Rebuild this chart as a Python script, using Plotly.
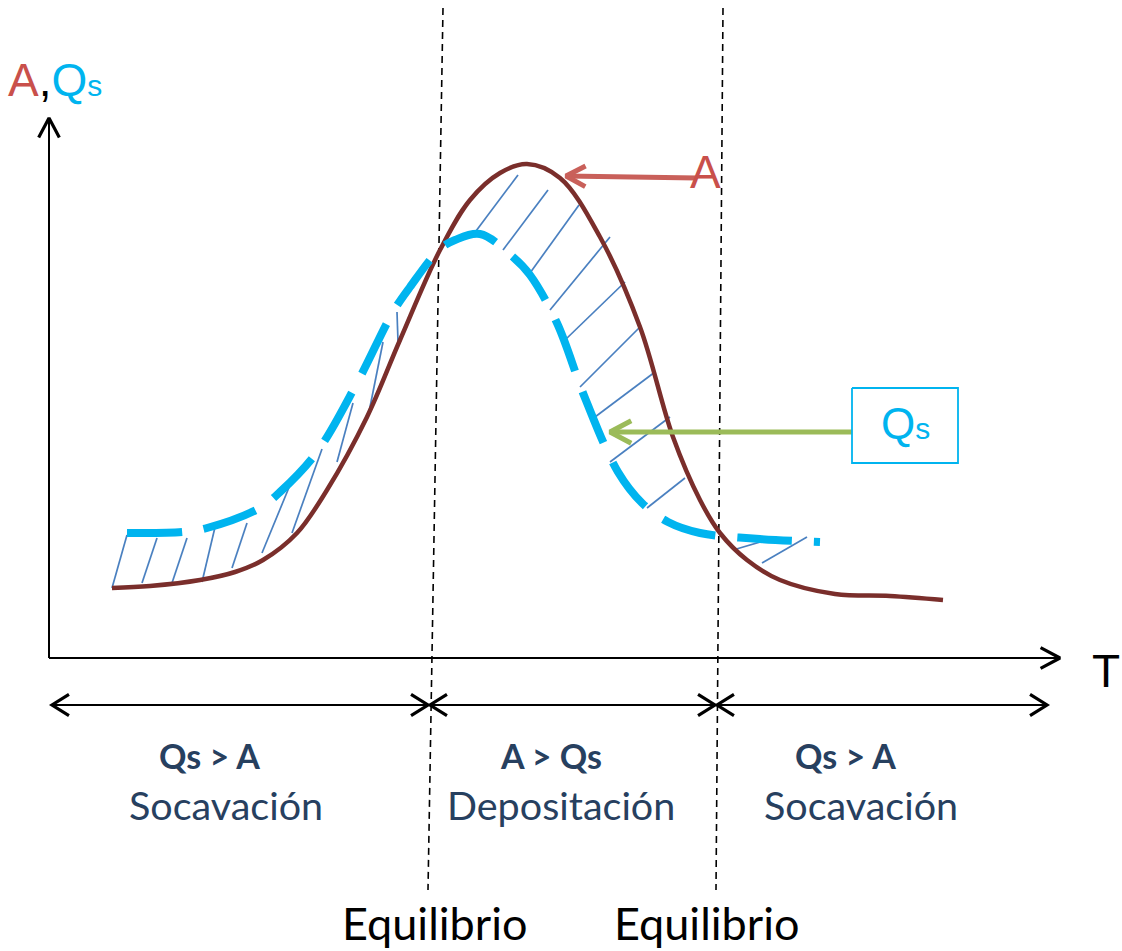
import math
import plotly.graph_objects as go

# ---- data (diagram units: x to the right, y downward, same scale as the sketch) ----
a_x = [112, 150, 200, 235, 263, 297, 327, 367, 400, 440, 470, 500, 527, 560, 600, 640, 673, 700, 720, 747, 780, 835, 890, 943]
a_y = [588, 586, 580, 572, 560, 533, 490, 417, 340, 250, 200, 173, 164, 178, 237, 327, 437, 500, 533, 560, 580, 594, 596, 600]

qs_x = [127, 183, 207, 260, 280, 317, 357, 393, 410, 440, 455, 480, 513, 530, 557, 585, 618, 642, 668, 700, 760, 820]
qs_y = [533, 532, 528, 508, 492, 452, 383, 312, 287, 249, 240, 234, 257, 275, 323, 398, 472, 503, 522, 533, 539, 542]

hatch_x0 = [112, 142, 172, 202, 232, 262, 292, 337, 368, 398, 473, 503, 530, 550, 565, 580, 595, 610, 647, 733, 762]
hatch_y0 = [588, 583, 583, 582, 568, 553, 533, 462, 417, 342, 235, 250, 273, 310, 340, 387, 417, 462, 508, 550, 563]
hatch_x1 = [127, 157, 187, 216, 247, 290, 322, 353, 383, 397, 518, 548, 579, 610, 625, 640, 655, 670, 685, 777, 807]
hatch_y1 = [535, 538, 538, 523, 523, 485, 449, 403, 342, 312, 175, 190, 205, 237, 282, 327, 372, 417, 478, 537, 537]

eq_x_top = [443, 723]
eq_x_bot = [428, 716]
eq_y_span = [8, 890]

axis_origin = (49, 658)
axis_y_tip = (49, 118)
axis_x_tip = (1060, 658)

range_y = 705
range_x0 = [52, 430, 717]
range_x1 = [428, 715, 1047]

arrow_a_from, arrow_a_to = (697, 178), (566, 176)
arrow_q_from, arrow_q_to = (852, 432), (610, 432)
qs_box_x = [852, 958]
qs_box_y = [388, 463]

region_top = ["<b>Qs &gt; A</b>", "<b>A &gt; Qs</b>", "<b>Qs &gt; A</b>"]
region_top_x = [209, 551, 845]
region_bottom = ["Socavación", "Depositación", "Socavación"]
region_bottom_x = [226, 561, 861]
equil_labels = ["Equilibrio", "Equilibrio"]
equil_x = [434, 706]

C_A = "#7a2e2b"
C_QS = "#00b4ef"
C_HATCH = "#4a80c0"
C_RED = "#c9605a"
C_GREEN = "#9bbb59"
C_NAVY = "#27405f"

fig = go.Figure()


def seg(x, y, color, width, dash="solid"):
    fig.add_trace(go.Scatter(x=x, y=y, mode="lines", hoverinfo="skip", showlegend=False,
                             line=dict(color=color, width=width, dash=dash)))


def chevron(tip, frm, color, width, L=20, ang=30):
    dx, dy = frm[0] - tip[0], frm[1] - tip[1]
    n = math.hypot(dx, dy)
    ux, uy = dx / n, dy / n
    pts = []
    for s in (1, -1):
        t = math.radians(ang * s)
        rx = ux * math.cos(t) - uy * math.sin(t)
        ry = ux * math.sin(t) + uy * math.cos(t)
        pts.append((tip[0] + L * rx, tip[1] + L * ry))
    seg([pts[0][0], tip[0], pts[1][0]], [pts[0][1], tip[1], pts[1][1]], color, width)


# hatch lines
for x0, y0, x1, y1 in zip(hatch_x0, hatch_y0, hatch_x1, hatch_y1):
    seg([x0, x1], [y0, y1], C_HATCH, 1.7)

# equilibrium dashed verticals
for xt, xb in zip(eq_x_top, eq_x_bot):
    seg([xt, xb], eq_y_span, "black", 1.6, dash="7px,5px")

# curves
fig.add_trace(go.Scatter(x=a_x, y=a_y, mode="lines", hoverinfo="skip", showlegend=False,
                         line=dict(color=C_A, width=4.5, shape="spline", smoothing=1.0)))
fig.add_trace(go.Scatter(x=qs_x, y=qs_y, mode="lines", hoverinfo="skip", showlegend=False,
                         line=dict(color=C_QS, width=8, shape="spline", smoothing=1.0, dash="55px,22px")))

# axes
seg([axis_origin[0], axis_y_tip[0]], [axis_origin[1], axis_y_tip[1]], "black", 2)
chevron(axis_y_tip, axis_origin, "black", 3.2, L=22, ang=28)
seg([axis_origin[0], axis_x_tip[0]], [axis_origin[1], axis_x_tip[1]], "black", 2)
chevron(axis_x_tip, axis_origin, "black", 3.2, L=22, ang=28)

# range arrows
for x0, x1 in zip(range_x0, range_x1):
    seg([x0, x1], [range_y, range_y], "black", 2)
    chevron((x0, range_y), (x1, range_y), "black", 3.2, L=20, ang=32)
    chevron((x1, range_y), (x0, range_y), "black", 3.2, L=20, ang=32)

# pointer arrows
seg([arrow_a_from[0], arrow_a_to[0]], [arrow_a_from[1], arrow_a_to[1]], C_RED, 5)
chevron(arrow_a_to, arrow_a_from, C_RED, 5, L=22, ang=28)
seg([arrow_q_from[0], arrow_q_to[0]], [arrow_q_from[1], arrow_q_to[1]], C_GREEN, 5)
chevron(arrow_q_to, arrow_q_from, C_GREEN, 5, L=24, ang=28)

# Qs box
fig.add_trace(go.Scatter(x=[qs_box_x[0], qs_box_x[1], qs_box_x[1], qs_box_x[0], qs_box_x[0]],
                         y=[qs_box_y[0], qs_box_y[0], qs_box_y[1], qs_box_y[1], qs_box_y[0]],
                         mode="lines", fill="toself", fillcolor="white", hoverinfo="skip",
                         showlegend=False, line=dict(color=C_QS, width=1.8)))

ann = []
SANS = "Liberation Sans, Arial, sans-serif"
LAB = "Lato, Noto Sans, sans-serif"
ann.append(dict(x=6, y=80, xanchor="left", yanchor="middle",
                text="<span style='color:#c9504b'>A</span>,<span style='color:#00b4ef'>Q<span style='font-size:30px'>s</span></span>",
                font=dict(family=SANS, size=46, color="black")))
ann.append(dict(x=1122, y=671, xanchor="right", yanchor="middle", text="T",
                font=dict(family=SANS, size=46, color="black")))
ann.append(dict(x=705, y=172, xanchor="center", yanchor="middle", text="A",
                font=dict(family=SANS, size=46, color="#c9504b")))
ann.append(dict(x=(qs_box_x[0] + qs_box_x[1]) / 2, y=(qs_box_y[0] + qs_box_y[1]) / 2 - 2,
                xanchor="center", yanchor="middle",
                text="Q<span style='font-size:30px'>s</span>",
                font=dict(family=SANS, size=44, color=C_QS)))
for t, x in zip(region_top, region_top_x):
    ann.append(dict(x=x, y=755, xanchor="center", yanchor="middle", text=t,
                    font=dict(family=LAB, size=34, color=C_NAVY)))
for t, x in zip(region_bottom, region_bottom_x):
    ann.append(dict(x=x, y=804, xanchor="center", yanchor="middle", text=t,
                    font=dict(family=LAB, size=39.5, color=C_NAVY)))
for t, x in zip(equil_labels, equil_x):
    ann.append(dict(x=x, y=923, xanchor="center", yanchor="middle", text=t,
                    font=dict(family=LAB, size=45, color="black")))
for a in ann:
    a.update(xref="x", yref="y", showarrow=False)

fig.update_layout(
    width=1122, height=951,
    margin=dict(l=0, r=0, t=0, b=0),
    paper_bgcolor="white", plot_bgcolor="white",
    xaxis=dict(range=[0, 1122], visible=False, fixedrange=True),
    yaxis=dict(range=[951, 0], visible=False, fixedrange=True),
    annotations=ann,
    showlegend=False,
)

fig.write_html("out.html", config={"displayModeBar": False},
               post_script="document.body.style.margin='0';document.body.style.overflow='hidden';")
